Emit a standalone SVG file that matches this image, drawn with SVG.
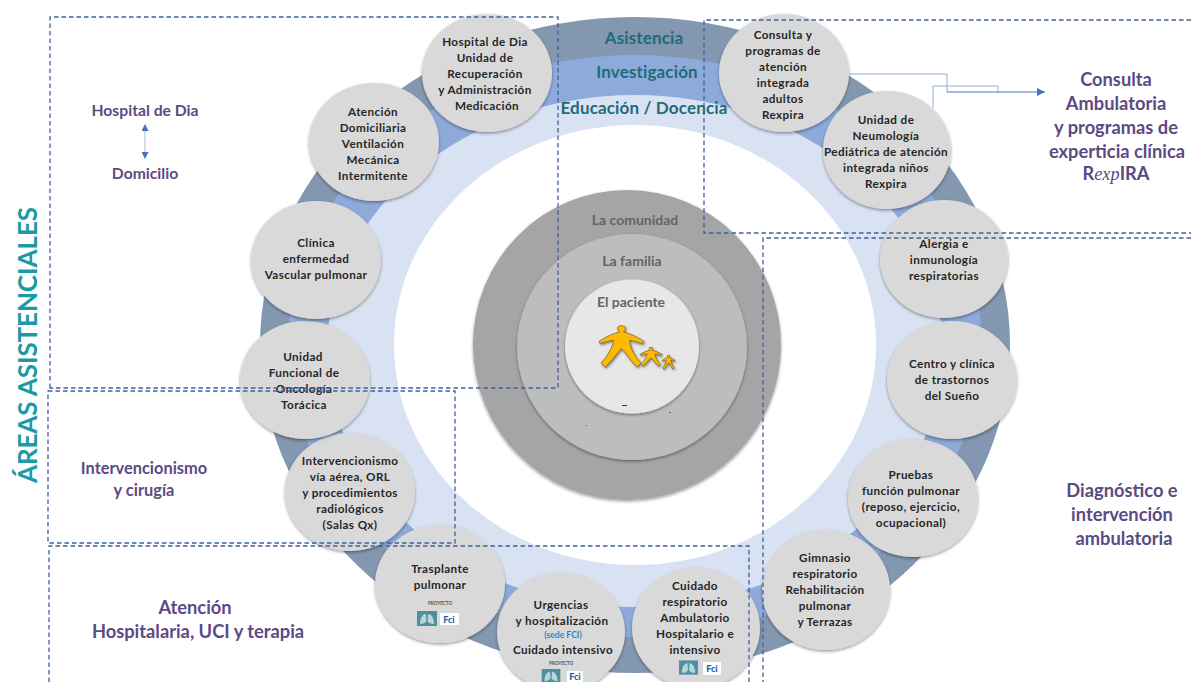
<svg xmlns="http://www.w3.org/2000/svg" width="1191" height="682" viewBox="0 0 1191 682">
<style>
text{font-family:Lato,"Open Sans","Liberation Sans",sans-serif;font-weight:700;text-anchor:middle}
.n{font-size:11.7px;fill:#262626;letter-spacing:.4px}
.c{fill:#d9d9d9;filter:url(#sh)}
.p{fill:#5c4a82}
.r{fill:#1f6b78;letter-spacing:.15px}
.g{font-size:14px;fill:#646464}
.box{fill:none;stroke:#3f6399;stroke-width:1.3;stroke-dasharray:4.5 3}
.lk{fill:none;stroke:#8fabdc;stroke-width:1}
.fc{fill:#1f5fa8;font-size:9px;font-weight:900}
.py{font-size:4.6px;fill:#555}
</style>
<defs>
<filter id="sh" x="-15%" y="-15%" width="130%" height="130%"><feDropShadow dx="0" dy="1.5" stdDeviation="1.6" flood-color="#000" flood-opacity=".4"/></filter>
<filter id="sh2" x="-15%" y="-15%" width="130%" height="130%"><feDropShadow dx="1" dy="1.5" stdDeviation="1" flood-color="#000" flood-opacity=".45"/></filter>
<marker id="ar" markerWidth="9" markerHeight="8" refX="8" refY="4" orient="auto" markerUnits="userSpaceOnUse"><path d="M0 0L8 4L0 8Z" fill="#4472c4"/></marker>
<marker id="ar2" markerWidth="7" markerHeight="7" refX="6" refY="3.500" orient="auto-start-reverse" markerUnits="userSpaceOnUse"><path d="M0 0L7 3.500L0 7Z" fill="#4472c4"/></marker>
<symbol id="fig" viewBox="0 0 44 41" preserveAspectRatio="none" overflow="visible"><path d="M18 3C18 0 26 0 26 3C26 5 24 6 24 7C30 8 38 12 44 16L43 18C37 17 33 15 30 15C30 20 34 30 41 37L37 41C32 36 26 27 22 23C18 27 12 36 6 41L2 37C9 30 14 20 14 15C11 15 6 17 1 18L0 16C6 12 14 8 20 7C20 6 18 5 18 3Z" fill="#fdb900" stroke="#6e5a1c" stroke-width=".7" vector-effect="non-scaling-stroke"/></symbol>
<symbol id="lung" viewBox="0 0 20 15"><rect width="20" height="15" fill="#4f8f9f"/><path d="M9 3C5 3 3 8 3 13C6 13 9 12 9.400 10ZM11 3C15 3 17 8 17 13C14 13 11 12 10.600 10Z" fill="#b9d4da"/></symbol>
</defs>

<g id="rings">
<ellipse cx="635" cy="345" rx="375" ry="328" fill="#8397b1"/>
<ellipse cx="635" cy="346" rx="347" ry="291" fill="#8eaadb"/>
<ellipse cx="635" cy="351" rx="308" ry="256" fill="#d9e2f3"/>
<ellipse cx="635" cy="345" rx="241" ry="220" fill="#fff"/>
<text class="r" x="644" y="44" font-size="17">Asistencia</text>
<text class="r" x="647" y="78" font-size="17">Investigación</text>
<text class="r" x="644" y="114" font-size="17">Educación / Docencia</text>
</g>

<g id="centro">
<ellipse cx="627" cy="345" rx="154" ry="155" fill="#a5a5a5" filter="url(#sh)"/>
<ellipse cx="632" cy="347" rx="115" ry="113" fill="#bdbdbd" filter="url(#sh)"/>
<circle cx="632" cy="346.500" r="67" fill="#e7e7e7" filter="url(#sh)"/>
<text class="g" x="635" y="225">La comunidad</text>
<text class="g" x="632" y="266">La familia</text>
<text class="g" x="631" y="307">El paciente</text>
<g filter="url(#sh2)">
<use href="#fig" x="599" y="325" width="45" height="42"/>
<use href="#fig" x="640" y="347" width="22" height="19"/>
<use href="#fig" x="662" y="355" width="13" height="14"/>
</g>
<rect x="622" y="405" width="5" height="1" fill="#333"/>
<rect x="669" y="412" width="2" height="1" fill="#666"/>
<rect x="585" y="425" width="2" height="1" fill="#888"/>
</g>

<g id="n-hospital-dia"><ellipse class="c" cx="487" cy="73" rx="65" ry="59"/><text class="n"><tspan x="485" y="46">Hospital de Dia</tspan><tspan x="485" y="62">Unidad de</tspan><tspan x="485" y="78">Recuperación</tspan><tspan x="485" y="94">y Administración</tspan><tspan x="487" y="110">Medicación</tspan></text></g>
<g id="n-consulta"><ellipse class="c" cx="784" cy="73" rx="65" ry="59"/><text class="n"><tspan x="783" y="39">Consulta y</tspan><tspan x="783" y="55">programas de</tspan><tspan x="783" y="71">atención</tspan><tspan x="783" y="87">integrada</tspan><tspan x="783" y="103">adultos</tspan><tspan x="783" y="119">Rexpira</tspan></text></g>
<g id="n-neumo"><ellipse class="c" cx="887" cy="150" rx="64" ry="59"/><text class="n"><tspan x="886" y="124">Unidad de</tspan><tspan x="886" y="140">Neumología</tspan><tspan x="886" y="156">Pediátrica de atención</tspan><tspan x="886" y="172">integrada niños</tspan><tspan x="886" y="188">Rexpira</tspan></text></g>
<g id="n-alergia"><ellipse class="c" cx="944" cy="259" rx="64" ry="59"/><text class="n"><tspan x="944" y="248">Alergia e</tspan><tspan x="944" y="264">inmunología</tspan><tspan x="944" y="280">respiratorias</tspan></text></g>
<g id="n-sueno"><ellipse class="c" cx="952" cy="380" rx="65" ry="59"/><text class="n"><tspan x="952" y="368">Centro y clínica</tspan><tspan x="952" y="384">de trastornos</tspan><tspan x="952" y="400">del Sueño</tspan></text></g>
<g id="n-pruebas"><ellipse class="c" cx="913" cy="498" rx="65" ry="59"/><text class="n"><tspan x="911" y="479">Pruebas</tspan><tspan x="911" y="495">función pulmonar</tspan><tspan x="911" y="511">(reposo, ejercicio,</tspan><tspan x="911" y="527">ocupacional)</tspan></text></g>
<g id="n-gimnasio"><ellipse class="c" cx="826" cy="590" rx="64" ry="60"/><text class="n"><tspan x="825" y="562">Gimnasio</tspan><tspan x="825" y="578">respiratorio</tspan><tspan x="825" y="594">Rehabilitación</tspan><tspan x="825" y="610">pulmonar</tspan><tspan x="825" y="626">y Terrazas</tspan></text></g>
<g id="n-cuidado"><ellipse class="c" cx="696" cy="628" rx="64" ry="60"/><text class="n"><tspan x="695" y="590">Cuidado</tspan><tspan x="695" y="606">respiratorio</tspan><tspan x="695" y="622">Ambulatorio</tspan><tspan x="695" y="638">Hospitalario e</tspan><tspan x="695" y="654">intensivo</tspan></text><use href="#lung" x="679" y="660" width="19" height="15"/><rect x="703" y="662" width="18" height="13" fill="#fff"/><text class="fc" x="712" y="672">Fci</text></g>
<g id="n-urgencias"><ellipse class="c" cx="561" cy="632" rx="64" ry="59"/><text class="n"><tspan x="561" y="609">Urgencias</tspan><tspan x="562" y="625">y hospitalización</tspan><tspan x="563" y="654">Cuidado intensivo</tspan></text><text x="563" y="638" font-size="8.600" fill="#2e86c8">(sede FCI)</text><text class="py" x="561" y="665">PROYECTO</text><use href="#lung" x="541" y="669" width="20" height="14"/><rect x="567" y="671" width="16" height="11" fill="#fff"/><text class="fc" x="575" y="680">Fci</text></g>
<g id="n-trasplante"><ellipse class="c" cx="440" cy="584" rx="65" ry="59"/><text class="n"><tspan x="440" y="573">Trasplante</tspan><tspan x="440" y="589">pulmonar</tspan></text><text class="py" x="440" y="605">PROYECTO</text><use href="#lung" x="417" y="611" width="20" height="15"/><rect x="440" y="613" width="19" height="12" fill="#fff"/><text class="fc" x="449" y="623">Fci</text></g>
<g id="n-interv"><ellipse class="c" cx="350" cy="492" rx="65" ry="59"/><text class="n"><tspan x="350" y="465">Intervencionismo</tspan><tspan x="350" y="481">vía aérea, ORL</tspan><tspan x="350" y="497">y procedimientos</tspan><tspan x="350" y="513">radiológicos</tspan><tspan x="350" y="529">(Salas Qx)</tspan></text></g>
<g id="n-oncologia"><ellipse class="c" cx="305" cy="380" rx="65" ry="59"/><text class="n"><tspan x="303" y="361">Unidad</tspan><tspan x="304" y="377">Funcional de</tspan><tspan x="304" y="393">Oncología</tspan><tspan x="304" y="409">Torácica</tspan></text></g>
<g id="n-vascular"><ellipse class="c" cx="316" cy="260" rx="65" ry="59"/><text class="n"><tspan x="316" y="247">Clínica</tspan><tspan x="316" y="263">enfermedad</tspan><tspan x="316" y="279">Vascular pulmonar</tspan></text></g>
<g id="n-domiciliaria"><ellipse class="c" cx="374" cy="142" rx="65" ry="59"/><text class="n"><tspan x="373" y="116">Atención</tspan><tspan x="373" y="132">Domiciliaria</tspan><tspan x="373" y="148">Ventilación</tspan><tspan x="373" y="164">Mecánica</tspan><tspan x="373" y="180">Intermitente</tspan></text></g>

<g id="connectors">
<path class="box" d="M50 388V17H558V388Z"/>
<path class="box" d="M48 391H455V543H48Z"/>
<path class="box" d="M49 682V546H749V682"/>
<path class="box" d="M1191 20H704V233H1191"/>
<path class="box" d="M1191 238H763V682"/>
<path class="lk" d="M849 74H947V92"/>
<path class="lk" d="M933 108V86H998V92"/>
<path d="M947 92H1045" fill="none" stroke="#4472c4" stroke-width="1" marker-end="url(#ar)"/>
<path d="M145 125V158" fill="none" stroke="#b4c7e7" stroke-width="1.200" marker-start="url(#ar2)" marker-end="url(#ar2)"/>
</g>

<g id="labels">
<text transform="translate(37 345) rotate(-90)" font-size="26" fill="#1c9aa6" textLength="276" lengthAdjust="spacing">ÁREAS ASISTENCIALES</text>
<text class="p" font-size="15.700"><tspan x="145" y="116">Hospital de Dia</tspan><tspan x="145" y="179">Domicilio</tspan></text>
<text class="p" font-size="16.400"><tspan x="144" y="474">Intervencionismo</tspan><tspan x="144" y="496">y cirugía</tspan></text>
<text class="p" font-size="18.300"><tspan x="195" y="614">Atención</tspan><tspan x="198" y="638">Hospitalaria, UCI y terapia</tspan></text>
<text class="p" font-size="18.300"><tspan x="1116" y="86">Consulta</tspan><tspan x="1116" y="110">Ambulatoria</tspan><tspan x="1116" y="134">y programas de</tspan><tspan x="1117" y="158">experticia clínica</tspan><tspan x="1116" y="180">R<tspan font-family="Liberation Serif" font-style="italic" font-weight="400">exp</tspan>IRA</tspan></text>
<text class="p" font-size="18.300"><tspan x="1122" y="497">Diagnóstico e</tspan><tspan x="1122" y="521">intervención</tspan><tspan x="1124" y="545">ambulatoria</tspan></text>
</g>
</svg>
